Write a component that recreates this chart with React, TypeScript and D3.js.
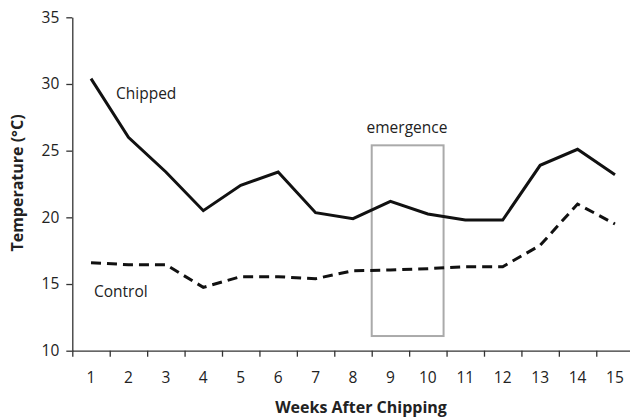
import React, { useEffect, useRef } from 'react';
import * as d3 from 'd3';

// weeks after chipping
const weeks = [1, 2, 3, 4, 5, 6, 7, 8, 9, 10, 11, 12, 13, 14, 15];
// mean temperature (°C)
const chipped = [30.4, 26.0, 23.4, 20.5, 22.4, 23.4, 20.35, 19.9, 21.2, 20.25, 19.8, 19.8, 23.9, 25.1, 23.2];
const control = [16.6, 16.45, 16.45, 14.75, 15.55, 15.55, 15.4, 16.0, 16.05, 16.15, 16.3, 16.3, 17.9, 21.0, 19.5];
const yTicks = [10, 15, 20, 25, 30, 35];
// emergence window (in week units and °C)
const emergence = { from: 8.5, to: 10.42, low: 11.1, high: 25.4 };

const FONT = "'Open Sans', 'DejaVu Sans', sans-serif";

const App = () => {
  const svgRef = useRef<SVGSVGElement>(null);

  useEffect(() => {
    const svg = d3.select(svgRef.current);
    svg.selectAll('*').remove();

    const width = 630;
    const height = 420;
    const left = 72.3;
    const right = 633.7;
    const top = 17.3;
    const bottom = 350.7;

    svg.append('rect').attr('width', width).attr('height', height).attr('fill', 'white');

    const x = d3.scaleLinear().domain([0.5, 15.5]).range([left, right]);
    const y = d3.scaleLinear().domain([10, 35]).range([bottom, top]);

    // y axis
    const yAxis = svg.append('g')
      .attr('transform', `translate(${left},0)`)
      .call(d3.axisLeft(y).tickValues(yTicks).tickSize(6).tickSizeOuter(0).tickPadding(7));
    yAxis.select('.domain').attr('stroke', '#333').attr('stroke-width', 1.3);
    yAxis.selectAll('.tick line').attr('stroke', '#333').attr('stroke-width', 1.3);
    yAxis.selectAll('.tick text')
      .attr('fill', '#222')
      .style('font-family', FONT)
      .style('font-size', '15.5px');

    // x axis: ticks between weeks, labels at centres
    const bounds = d3.range(0.5, 15.6, 1);
    const xAxis = svg.append('g')
      .attr('transform', `translate(0,${bottom})`)
      .call(d3.axisBottom(x).tickValues(bounds).tickFormat(() => '').tickSize(6).tickSizeOuter(0));
    xAxis.select('.domain').attr('stroke', '#333').attr('stroke-width', 1.3);
    xAxis.selectAll('.tick line').attr('stroke', '#333').attr('stroke-width', 1.3);

    svg.append('g').selectAll('text')
      .data(weeks)
      .enter()
      .append('text')
      .attr('x', d => x(d))
      .attr('y', bottom + 32)
      .attr('text-anchor', 'middle')
      .attr('fill', '#222')
      .style('font-family', FONT)
      .style('font-size', '15.5px')
      .text(d => d);

    // axis titles
    svg.append('text')
      .attr('x', 361)
      .attr('y', 413)
      .attr('text-anchor', 'middle')
      .attr('fill', '#222')
      .style('font-family', FONT)
      .style('font-size', '16px')
      .style('font-weight', 'bold')
      .text('Weeks After Chipping');

    svg.append('text')
      .attr('transform', 'translate(23,183) rotate(-90)')
      .attr('text-anchor', 'middle')
      .attr('fill', '#222')
      .style('font-family', FONT)
      .style('font-size', '16px')
      .style('font-weight', 'bold')
      .text('Temperature (°C)');

    // emergence box
    svg.append('rect')
      .attr('x', x(emergence.from))
      .attr('y', y(emergence.high))
      .attr('width', x(emergence.to) - x(emergence.from))
      .attr('height', y(emergence.low) - y(emergence.high))
      .attr('fill', 'none')
      .attr('stroke', '#aaa')
      .attr('stroke-width', 2);

    svg.append('text')
      .attr('x', 407)
      .attr('y', 133)
      .attr('text-anchor', 'middle')
      .attr('fill', '#222')
      .style('font-family', FONT)
      .style('font-size', '15.5px')
      .text('emergence');

    const line = d3.line<number>()
      .x((_, i) => x(weeks[i]))
      .y(d => y(d));

    svg.append('path')
      .datum(chipped)
      .attr('d', line)
      .attr('fill', 'none')
      .attr('stroke', '#111')
      .attr('stroke-width', 3)
      .attr('stroke-linejoin', 'miter');

    svg.append('path')
      .datum(control)
      .attr('d', line)
      .attr('fill', 'none')
      .attr('stroke', '#111')
      .attr('stroke-width', 3)
      .attr('stroke-dasharray', '10,6');

    // series labels
    svg.append('text')
      .attr('x', 116)
      .attr('y', 99)
      .attr('fill', '#222')
      .style('font-family', FONT)
      .style('font-size', '15.5px')
      .text('Chipped');

    svg.append('text')
      .attr('x', 94)
      .attr('y', 297)
      .attr('fill', '#222')
      .style('font-family', FONT)
      .style('font-size', '15.5px')
      .text('Control');
  }, []);

  return (
    <svg
      ref={svgRef}
      width={630}
      height={420}
      style={{ position: 'absolute', left: 0, top: 0, display: 'block' }}
    />
  );
};

export default App;
